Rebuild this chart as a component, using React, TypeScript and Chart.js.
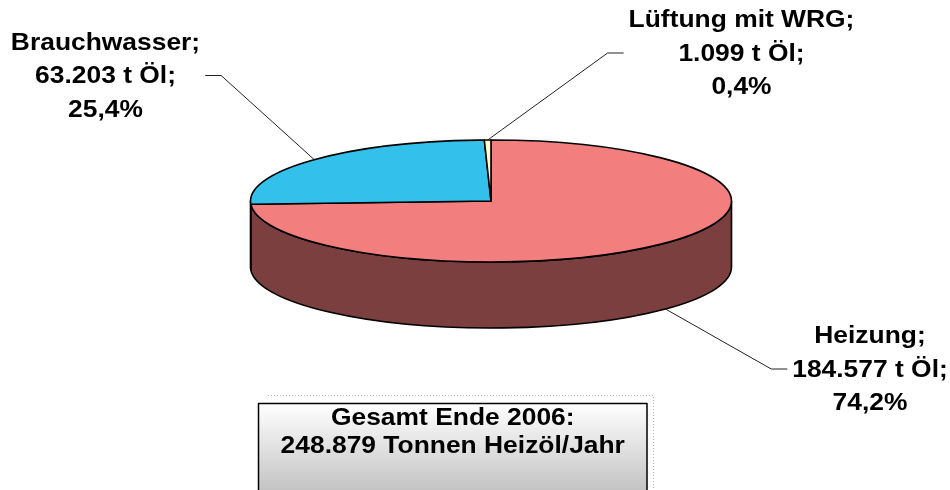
import React, { useEffect, useRef } from 'react';
import { Chart, registerables } from 'chart.js';

Chart.register(...registerables);

// ---- data ----
const categories = ['Heizung', 'Brauchwasser', 'Lüftung mit WRG'];
const tonnes = [184577, 63203, 1099];
const topColors = ['#F37E7E', '#33C1EC', '#FFFFCC'];
const sideColors = ['#7B3F40', '#1E7591', '#A3A37E'];
const totalTitle = 'Gesamt Ende 2006:';
const totalUnit = 'Tonnen Heizöl/Jahr';

// ---- layout (not data) ----
const TILT = 61 / 240.5;
const DEPTH = 66;
const LABEL_CENTERS: [number, number][] = [
  [870, 370],
  [105.5, 76.5],
  [741.5, 54],
];
const LINE_GAP = 33.5;
const FONT = 'bold 24px "Liberation Sans", Arial, sans-serif';
const XSCALE = 1.1;

const fmtDE = (n: number) => String(n).replace(/\B(?=(\d{3})+(?!\d))/g, '.');
const total = tonnes.reduce((a, b) => a + b, 0);
const pctDE = (n: number) => ((n / total) * 100).toFixed(1).replace('.', ',') + '%';

function drawText(ctx: CanvasRenderingContext2D, text: string, x: number, y: number) {
  ctx.save();
  ctx.translate(x, y);
  ctx.scale(XSCALE, 1);
  ctx.fillText(text, 0, 0);
  ctx.restore();
}

const pie3d = {
  id: 'pie3d',
  beforeDatasetsDraw(chart: any) {
    const ctx: CanvasRenderingContext2D = chart.ctx;
    const meta = chart.getDatasetMeta(0);
    const arcs = meta.data as any[];
    if (!arcs.length) return false;
    const cx = arcs[0].x;
    const cy = arcs[0].y;
    const rx = arcs[0].outerRadius;
    const ry = rx * TILT;
    ctx.save();
    ctx.lineJoin = 'round';
    ctx.strokeStyle = '#000';
    ctx.lineWidth = 1.6;

    // side walls (front half only)
    arcs.forEach((arc, i) => {
      const a = Math.max(arc.startAngle, 0);
      const b = Math.min(arc.endAngle, Math.PI);
      if (a >= b) return;
      ctx.beginPath();
      ctx.ellipse(cx, cy, rx, ry, 0, a, b, false);
      ctx.ellipse(cx, cy + DEPTH, rx, ry, 0, b, a, true);
      ctx.closePath();
      ctx.fillStyle = sideColors[i];
      ctx.fill();
      ctx.stroke();
    });

    // top faces
    arcs.forEach((arc, i) => {
      ctx.beginPath();
      ctx.moveTo(cx, cy);
      ctx.ellipse(cx, cy, rx, ry, 0, arc.startAngle, arc.endAngle, false);
      ctx.closePath();
      ctx.fillStyle = topColors[i];
      ctx.fill();
      ctx.stroke();
    });

    // labels + leader lines
    ctx.font = FONT;
    ctx.textAlign = 'center';
    ctx.textBaseline = 'middle';
    arcs.forEach((arc, i) => {
      const lines = [categories[i] + ';', fmtDE(tonnes[i]) + ' t Öl;', pctDE(tonnes[i])];
      const [lx, ly] = LABEL_CENTERS[i];
      const maxW = Math.max(...lines.map((l) => ctx.measureText(l).width)) * XSCALE;
      const mid = (arc.startAngle + arc.endAngle) / 2;
      const s = Math.sin(mid);
      const px = cx + rx * Math.cos(mid);
      const py = cy + ry * s + (s > 0 ? DEPTH : 0);
      const right = lx > px;
      const endX = right ? lx - maxW / 2 - 5 : lx + maxW / 2 + 5;
      const elbowX = right ? endX - 16 : endX + 16;
      const ey = ly - 1;
      ctx.beginPath();
      ctx.moveTo(px, py);
      ctx.lineTo(elbowX, ey);
      ctx.lineTo(endX, ey);
      ctx.strokeStyle = '#222';
      ctx.lineWidth = 1;
      ctx.stroke();
      ctx.fillStyle = '#000';
      lines.forEach((l, k) => drawText(ctx, l, lx, ly + (k - 1) * LINE_GAP));
    });

    // total text box
    const bx = 258.5, by = 403.5, bw = 388.5, bh = 95;
    ctx.save();
    ctx.strokeStyle = '#b8b8b8';
    ctx.lineWidth = 1;
    ctx.setLineDash([1, 2]);
    ctx.beginPath();
    ctx.moveTo(268, 395.5);
    ctx.lineTo(653.5, 395.5);
    ctx.lineTo(653.5, 490);
    ctx.stroke();
    ctx.restore();
    const g = ctx.createLinearGradient(0, by, 0, 490);
    g.addColorStop(0, '#ffffff');
    g.addColorStop(1, '#c4c4c4');
    ctx.fillStyle = g;
    ctx.fillRect(bx, by, bw, bh);
    ctx.strokeStyle = '#000';
    ctx.lineWidth = 1.5;
    ctx.strokeRect(bx, by, bw, bh);
    ctx.fillStyle = '#000';
    ctx.font = FONT;
    drawText(ctx, totalTitle, bx + bw / 2, 418.5);
    drawText(ctx, fmtDE(total) + ' ' + totalUnit, bx + bw / 2, 446.5);

    ctx.restore();
    return false;
  },
};

export default function App() {
  const ref = useRef<HTMLCanvasElement | null>(null);
  useEffect(() => {
    document.body.style.margin = '0';
    const canvas = ref.current;
    if (!canvas) return;
    const chart = new Chart(canvas, {
      type: 'pie',
      data: {
        labels: categories,
        datasets: [{ data: tonnes, backgroundColor: topColors, borderWidth: 0 }],
      },
      options: {
        responsive: false,
        animation: false,
        radius: 240.5,
        layout: { padding: { left: 32, right: 0, top: 0, bottom: 88 } },
        plugins: { legend: { display: false }, tooltip: { enabled: false } },
      } as any,
      plugins: [pie3d as any],
    });
    return () => chart.destroy();
  }, []);
  return (
    <div style={{ position: 'fixed', left: 0, top: 0, width: 950, height: 490, background: '#fff' }}>
      <canvas ref={ref} width={950} height={490} style={{ width: 950, height: 490, display: 'block' }} />
    </div>
  );
}
